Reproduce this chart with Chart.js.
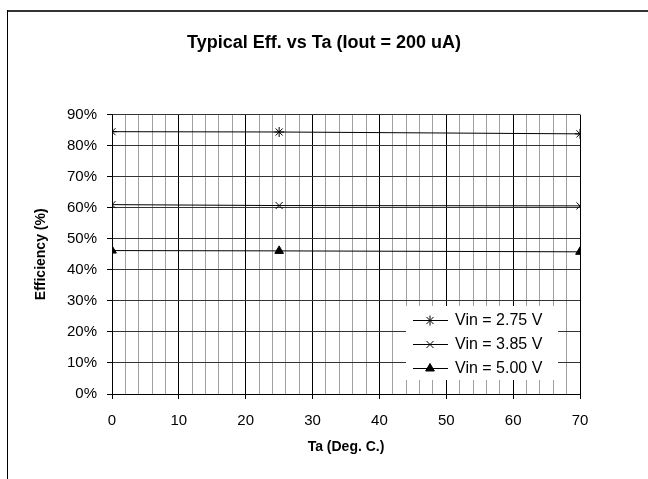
<!DOCTYPE html>
<html>
<head>
<meta charset="utf-8">
<script src="https://cdn.jsdelivr.net/npm/chart.js@4/dist/chart.umd.min.js"></script>
<style>
  html, body { margin: 0; padding: 0; background: #fff; }
  #wrap { width: 648px; height: 479px; }
</style>
</head>
<body>
<div id="wrap"><canvas id="chart1" width="648" height="479"></canvas></div>
<script>
// temperatures (deg C)
const ta = [0, 25, 70];
// efficiency (%)
const eff275 = [84.5, 84.4, 83.8];
const eff385 = [61.0, 60.7, 60.6];
const eff500 = [46.2, 46.1, 45.8];
const seriesLabels = ['Vin = 2.75 V', 'Vin = 3.85 V', 'Vin = 5.00 V'];
const yTicks = [0, 10, 20, 30, 40, 50, 60, 70, 80, 90];

const FONT = '"Liberation Sans", Arial, sans-serif';

function pts(ys) {
    return ta.map((x, i) => ({x: x, y: ys[i]}));
}

// outer frame (top + left edge only, like the source)
const framePlugin = {
    id: 'frame',
    afterLayout(chart) {
        // centre the title on the whole canvas, not just the padded box
        if (chart.titleBlock) {
            chart.titleBlock.left = 0;
            chart.titleBlock.right = chart.width;
        }
    },
    beforeDraw(chart) {
        const ctx = chart.ctx;
        ctx.save();
        ctx.fillStyle = '#fff';
        ctx.fillRect(0, 0, chart.width, chart.height);
        ctx.strokeStyle = '#333';
        ctx.lineWidth = 2;
        ctx.beginPath();
        ctx.moveTo(7, 11);
        ctx.lineTo(chart.width, 11);
        ctx.stroke();
        ctx.strokeStyle = '#000';
        ctx.lineWidth = 1;
        ctx.beginPath();
        ctx.moveTo(7.5, 10);
        ctx.lineTo(7.5, chart.height);
        ctx.stroke();
        ctx.restore();
    }
};

// legend box sitting inside the plot, bottom right
const boxLegend = {
    id: 'boxLegend',
    afterDraw(chart) {
        const ctx = chart.ctx;
        const x0 = 406, y0 = 306, w = 152, h = 74;
        ctx.save();
        ctx.fillStyle = '#fff';
        ctx.fillRect(x0, y0, w, h);
        ctx.font = '16px ' + FONT;
        ctx.textBaseline = 'middle';
        chart.data.datasets.forEach((ds, i) => {
            const y = 320 + i * 24;
            ctx.strokeStyle = '#000';
            ctx.lineWidth = 1;
            ctx.beginPath();
            ctx.moveTo(413, y + 0.5);
            ctx.lineTo(448, y + 0.5);
            ctx.stroke();
            ctx.fillStyle = '#000';
            Chart.helpers.drawPoint(ctx, {
                pointStyle: ds.pointStyle, radius: ds.pointRadius,
                borderWidth: 1, rotation: 0
            }, 430, y + 0.5);
            ctx.fillStyle = '#000';
            ctx.fillText(ds.label, 455, y + 1);
        });
        ctx.restore();
    }
};

const common = {
    borderColor: '#000', backgroundColor: '#000',
    pointBorderColor: '#000', pointBackgroundColor: '#000',
    borderWidth: 1, pointBorderWidth: 1, pointRadius: 5, tension: 0
};

new Chart(document.getElementById('chart1'), {
    type: 'line',
    data: {
        datasets: [
            Object.assign({label: seriesLabels[0], data: pts(eff275), pointStyle: 'star'}, common),
            Object.assign({label: seriesLabels[1], data: pts(eff385), pointStyle: 'crossRot'}, common),
            Object.assign({label: seriesLabels[2], data: pts(eff500), pointStyle: 'triangle', pointRadius: 6}, common)
        ]
    },
    options: {
        responsive: false,
        animation: false,
        devicePixelRatio: 1,
        layout: {padding: {left: 0, right: 68, top: 0, bottom: 0}},
        plugins: {
            legend: {display: false},
            tooltip: {enabled: false},
            title: {
                display: true,
                text: 'Typical Eff. vs Ta (Iout = 200 uA)',
                color: '#000',
                font: {family: FONT, size: 18, weight: 'bold'},
                padding: {top: 32, bottom: 61}
            }
        },
        scales: {
            x: {
                type: 'linear', min: 0, max: 70,
                afterFit(s) { s.height = 85; },
                border: {color: '#000', width: 1},
                grid: {
                    color: c => (c.tick.value % 10 === 0 ? '#000' : '#a0a0a0'),
                    tickColor: c => (c.tick.value % 10 === 0 ? '#000' : 'rgba(0,0,0,0)'),
                    tickLength: 5
                },
                ticks: {
                    stepSize: 2, autoSkip: false, maxRotation: 0,
                    padding: 13, color: '#000',
                    font: {family: FONT, size: 15},
                    callback: v => (v % 10 === 0 ? String(v) : '')
                },
                title: {
                    display: true, text: 'Ta (Deg. C.)', color: '#000',
                    font: {family: FONT, size: 14, weight: 'bold'},
                    padding: {top: 0, bottom: 23}
                }
            },
            y: {
                min: 0, max: 90,
                afterFit(s) { s.width = 112; },
                afterBuildTicks(s) { s.ticks = yTicks.map(v => ({value: v})); },
                border: {color: '#000', width: 1},
                grid: {color: '#333', tickColor: '#000', tickLength: 5},
                ticks: {
                    padding: 10, color: '#000',
                    font: {family: FONT, size: 15},
                    callback: v => v + '%'
                },
                title: {
                    display: true, text: 'Efficiency (%)', color: '#000',
                    font: {family: FONT, size: 14, weight: 'bold'},
                    padding: {top: 33, bottom: 0}
                }
            }
        }
    },
    plugins: [framePlugin, boxLegend]
});
</script>
</body>
</html>
